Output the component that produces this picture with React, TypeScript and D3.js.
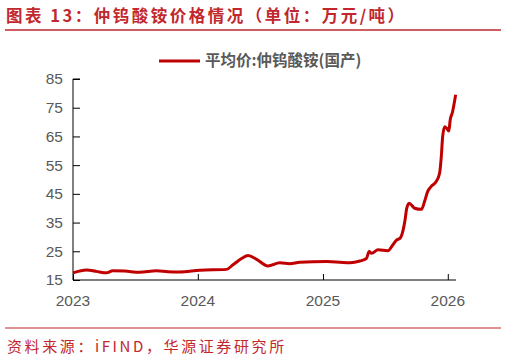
import React, { useEffect, useRef } from 'react';
import * as d3 from 'd3';

const dates: string[] = [
    '2023-01-01', '2023-02-10', '2023-03-10', '2023-04-09', '2023-04-27', '2023-06-01', '2023-07-15',
    '2023-09-02', '2023-10-05', '2023-11-08', '2024-01-07', '2024-03-25', '2024-04-12',
    '2024-05-08', '2024-05-27', '2024-06-21', '2024-07-24', '2024-08-28', '2024-09-26',
    '2024-10-25', '2025-01-12', '2025-02-19', '2025-03-21', '2025-04-19', '2025-05-08',
    '2025-05-16', '2025-05-23', '2025-06-11', '2025-07-10', '2025-07-24', '2025-08-04',
    '2025-08-14', '2025-08-23', '2025-08-29', '2025-09-03', '2025-09-10', '2025-09-17',
    '2025-09-26', '2025-10-16', '2025-10-25', '2025-11-03', '2025-11-13', '2025-11-28',
    '2025-12-08', '2025-12-13', '2025-12-17', '2025-12-23', '2025-12-29', '2026-01-04',
    '2026-01-08', '2026-01-15', '2026-01-18', '2026-01-24',
];
const prices: number[] = [
    17.5, 18.5, 18.0, 17.5, 18.2, 18.1, 17.7,
    18.2, 17.9, 17.8, 18.4, 18.7, 20.2,
    22.5, 23.5, 22.2, 19.9, 21.0, 20.7,
    21.2, 21.4, 21.2, 21.0, 21.6, 22.5,
    24.9, 24.3, 25.5, 25.2, 27.2, 28.9,
    29.5, 32.2, 35.9, 40.0, 41.7, 41.1,
    40.0, 39.6, 42.3, 45.8, 47.5, 49.3,
    52.2, 58.0, 65.0, 68.4, 67.8, 66.9,
    70.7, 73.6, 75.4, 79.5,
];
const yTicks: number[] = [15, 25, 35, 45, 55, 65, 75, 85];
const xTickYears: number[] = [2023, 2024, 2025, 2026];
const seriesName = '平均价:仲钨酸铵(国产)';
const title = '图表 13：仲钨酸铵价格情况（单位：万元/吨）';
const source = '资料来源：iFIND，华源证券研究所';

const RED = '#c00000';
const TITLE_RED = '#c1272d';
const GRAY = '#595959';

const App: React.FC = () => {
    const ref = useRef<SVGSVGElement | null>(null);

    useEffect(() => {
        const svg = d3.select(ref.current);
        svg.selectAll('*').remove();

        const data = dates.map((d, i) => ({ date: new Date(d + 'T00:00:00'), value: prices[i] }));

        const x = d3.scaleTime()
            .domain([new Date('2023-01-01T00:00:00'), new Date('2026-01-25T00:00:00')])
            .range([73, 456]);
        const y = d3.scaleLinear().domain([15, 85]).range([280, 79]);

        // title + rules
        svg.append('text')
            .attr('x', 6).attr('y', 22)
            .attr('fill', TITLE_RED)
            .attr('font-family', '"Noto Sans CJK SC", sans-serif')
            .attr('font-weight', 'bold')
            .attr('font-size', 16.5)
            .attr('letter-spacing', 2.5)
            .text(title);
        svg.append('line')
            .attr('x1', 5).attr('x2', 501).attr('y1', 30).attr('y2', 30)
            .attr('stroke', TITLE_RED).attr('stroke-width', 1.5);
        svg.append('line')
            .attr('x1', 5).attr('x2', 501).attr('y1', 328).attr('y2', 328)
            .attr('stroke', TITLE_RED).attr('stroke-width', 1.2);
        svg.append('text')
            .attr('x', 7).attr('y', 352)
            .attr('fill', TITLE_RED)
            .attr('font-family', '"Noto Sans CJK SC", sans-serif')
            .attr('font-size', 15)
            .attr('letter-spacing', 2.6)
            .text(source);

        // y axis
        const yAxis = svg.append('g')
            .attr('transform', 'translate(73,0)')
            .call(d3.axisRight(y).tickValues(yTicks).tickSize(7).tickFormat(() => ''));
        yAxis.select('.domain').attr('stroke', '#000').attr('d', 'M7,79H0V280');
        yAxis.selectAll('line').attr('stroke', '#000');
        svg.append('g').selectAll('text')
            .data(yTicks)
            .join('text')
            .attr('x', 63).attr('y', d => y(d))
            .attr('dy', '0.35em')
            .attr('text-anchor', 'end')
            .attr('fill', GRAY)
            .attr('font-family', '"Liberation Sans", Arial, sans-serif')
            .attr('font-size', 15.5)
            .text(d => d);

        // x axis
        const xTickDates = xTickYears.map(yr => new Date(`${yr}-01-01T00:00:00`));
        const xAxis = svg.append('g')
            .attr('transform', 'translate(0,280)')
            .call(d3.axisTop(x).tickValues(xTickDates).tickSize(6).tickFormat(() => ''));
        xAxis.select('.domain').attr('stroke', '#000').attr('d', 'M73,0H456');
        xAxis.selectAll('line').attr('stroke', '#000');
        svg.append('g').selectAll('text')
            .data(xTickDates)
            .join('text')
            .attr('x', d => x(d)).attr('y', 306)
            .attr('text-anchor', 'middle')
            .attr('fill', GRAY)
            .attr('font-family', '"Liberation Sans", Arial, sans-serif')
            .attr('font-size', 15.5)
            .text(d => d.getFullYear());

        // series
        const line = d3.line<{ date: Date; value: number }>()
            .x(d => x(d.date))
            .y(d => y(d.value))
            .curve(d3.curveMonotoneX);
        svg.append('path')
            .datum(data)
            .attr('fill', 'none')
            .attr('stroke', RED)
            .attr('stroke-width', 3)
            .attr('stroke-linejoin', 'round')
            .attr('d', line);

        // legend
        svg.append('line')
            .attr('x1', 159).attr('x2', 200).attr('y1', 61).attr('y2', 61)
            .attr('stroke', RED).attr('stroke-width', 3);
        svg.append('text')
            .attr('x', 205).attr('y', 66)
            .attr('fill', GRAY)
            .attr('font-family', '"Noto Sans CJK SC", sans-serif')
            .attr('font-weight', 'bold')
            .attr('font-size', 15.5)
            .text(seriesName);
    }, []);

    return (
        <svg ref={ref} width={506} height={361}
            style={{ position: 'absolute', left: 0, top: 0, background: '#fff' }} />
    );
};

export default App;
